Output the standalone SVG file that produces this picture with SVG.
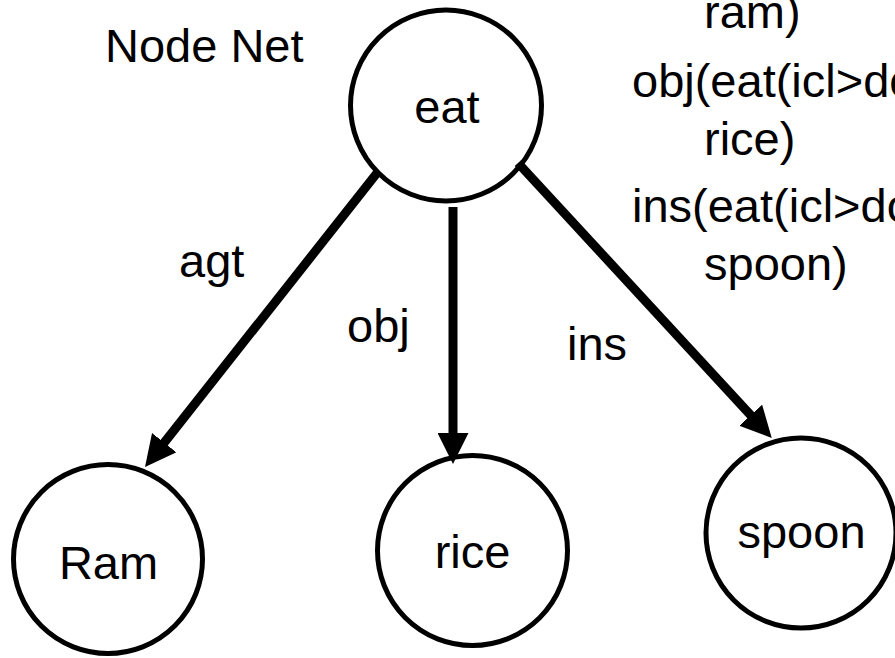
<svg xmlns="http://www.w3.org/2000/svg" width="895" height="658" viewBox="0 0 895 658">
<style>
text{font-family:"Liberation Sans",Arial,sans-serif;font-size:47px;fill:#000}
.node circle{fill:#fff;stroke:#000;stroke-width:5}
.node text{text-anchor:middle}
.edge{stroke:#000;stroke-width:9;fill:none;marker-end:url(#ah)}
</style>
<defs>
<marker id="ah" markerUnits="userSpaceOnUse" markerWidth="31" markerHeight="31" refX="6" refY="15.5" orient="auto">
<path d="M0,0 L31,15.5 L0,31 Z" fill="#000"/>
</marker>
</defs>
<rect width="895" height="658" fill="#fff"/>
<text x="105" y="62">Node Net</text>
<g id="unl-text">
<text x="704" y="28">ram)</text>
<text x="632" y="97">obj(eat(icl&gt;do</text>
<text x="704" y="155">rice)</text>
<text x="632" y="222">ins(eat(icl&gt;do</text>
<text x="704" y="280">spoon)</text>
</g>
<g id="eat" class="node">
<circle cx="446" cy="105.5" r="95.5"/>
<text x="447" y="123">eat</text>
</g>
<g id="ram" class="node">
<circle cx="108" cy="559" r="94.5"/>
<text x="108.5" y="579">Ram</text>
</g>
<g id="rice" class="node">
<circle cx="472.5" cy="550.5" r="95"/>
<text x="472.5" y="568">rice</text>
</g>
<g id="spoon" class="node">
<circle cx="801" cy="533" r="95"/>
<text x="801.5" y="548">spoon</text>
</g>
<g id="connectors">
<line class="edge" x1="377" y1="173" x2="160.5" y2="447.4"/>
<line class="edge" x1="453" y1="207" x2="453" y2="439"/>
<line class="edge" x1="518" y1="163" x2="754.8" y2="419.6"/>
<text x="179" y="277">agt</text>
<text x="347" y="342">obj</text>
<text x="567" y="360">ins</text>
</g>
</svg>
